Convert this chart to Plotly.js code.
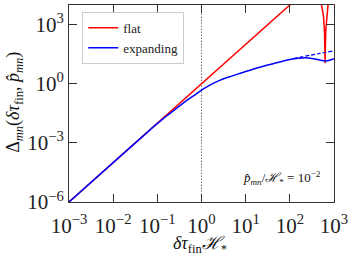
<!DOCTYPE html>
<html>
<head>
<meta charset="utf-8">
<script src="https://cdn.plot.ly/plotly-3.0.1.min.js"></script>
<style>html,body{margin:0;padding:0;background:#fff;}#plot{width:353px;height:256px;}</style>
</head>
<body>
<div id="plot"></div>
<script>
// flat (red)
const flatX = [0.001, 100, 200, 300, 400, 500, 540, 580, 610, 628, 650, 690, 733, 800, 1000];
const flatY = [1e-6, 1e4, 2.8e4, 4e4, 3.3e4, 1.4e4, 7e3, 2.5e3, 4e2, 11, 5e2, 3e3, 1e4, 2.2e4, 3.7e4];
// expanding (blue, solid)
const expX = [0.001, 0.01, 0.0525, 0.0813, 0.126, 0.194, 0.299, 0.462, 0.713, 1.0, 1.585, 2.51, 3.98, 6.31, 10,
              15.8, 25.1, 39.8, 63.1, 100, 158, 224, 316, 447, 631, 794, 1000];
const expY = [1e-6, 1e-4, 2.69e-3, 6.46e-3, 0.0148, 0.0316, 0.0676, 0.145, 0.275, 0.479, 0.891, 1.445, 2.14, 3.02, 4.17,
              5.75, 7.76, 10.2, 13.2, 17.0, 20.0, 20.9, 19.5, 16.6, 14.5, 15.5, 18.6];
// expanding asymptote (blue, dashed)
const asymX = [120, 480, 1000];
const asymY = [19.3, 34.7, 46.8];
// vertical marker
const markX = [1, 1];
const markY = [1e-7, 1e5];
// ticks
const xTickVals = [1e-3, 1e-2, 1e-1, 1, 10, 100, 1000];
const xTickText = ["10<sup>−3</sup>", "10<sup>−2</sup>", "10<sup>−1</sup>", "10<sup>0</sup>", "10<sup>1</sup>", "10<sup>2</sup>", "10<sup>3</sup>"];
const yTickVals = [1e-6, 1e-3, 1, 1e3];
const yTickText = ["10<sup>−6</sup>", "10<sup>−3</sup>", "10<sup>0</sup>", "10<sup>3</sup>"];

const serif = "Liberation Serif";

const traces = [
  {x: markX, y: markY, mode: "lines", line: {color: "#333", width: 1, dash: "1px,2px"}, showlegend: false, hoverinfo: "skip"},
  {x: flatX, y: flatY, mode: "lines", name: "flat", line: {color: "#ff0000", width: 1.5}},
  {x: expX, y: expY, mode: "lines", name: "expanding", line: {color: "#0000ff", width: 1.5, shape: "spline", smoothing: 0.6}},
  {x: asymX, y: asymY, mode: "lines", showlegend: false, line: {color: "#0000ff", width: 1.2, dash: "4px,2px", shape: "spline", smoothing: 0.6}}
];

const axisCommon = {
  type: "log", showgrid: false, zeroline: false, showline: true, linecolor: "#333", linewidth: 1,
  mirror: "allticks", ticks: "inside", ticklen: 8, tickwidth: 1, tickcolor: "#333",
  tickfont: {family: serif, size: 21, color: "#222"}
};

const layout = {
  width: 353, height: 256,
  margin: {l: 69, r: 19, t: 5, b: 54},
  paper_bgcolor: "#fff", plot_bgcolor: "#fff",
  font: {family: serif},
  xaxis: Object.assign({}, axisCommon, {range: [-3, 3], tickvals: xTickVals, ticktext: xTickText, ticklabelstandoff: 5}),
  yaxis: Object.assign({}, axisCommon, {range: [-6, 4], tickvals: yTickVals, ticktext: yTickText}),
  legend: {x: 0.05, y: 0.965, xanchor: "left", yanchor: "top", bgcolor: "#fff", bordercolor: "#ccc", borderwidth: 1,
           font: {family: serif, size: 13, color: "#222"}},
  showlegend: true,
  annotations: [
    {xref: "paper", yref: "paper", x: 0.494, y: -0.215, xanchor: "center", yanchor: "middle", showarrow: false,
     text: "<i>δτ</i><sub>fin</sub><i>ℋ</i><sub>*</sub>", font: {family: serif, size: 18, color: "#111"}},
    {xref: "paper", yref: "paper", x: -0.204, y: 0.508, xanchor: "center", yanchor: "middle", showarrow: false, textangle: -90,
     text: "Δ<sub><i>mn</i></sub>(<i>δτ</i><sub>fin</sub>, <i>p̂</i><sub><i>mn</i></sub>)", font: {family: serif, size: 18, color: "#111"}},
    {xref: "paper", yref: "paper", x: 0.96, y: 0.122, xanchor: "right", yanchor: "middle", showarrow: false,
     text: "<i>p̂</i><sub><i>mn</i></sub>/<i>ℋ</i><sub>*</sub> = 10<sup>−2</sup>", font: {family: serif, size: 13, color: "#111"}}
  ]
};

Plotly.newPlot("plot", traces, layout, {displayModeBar: false, staticPlot: true});
</script>
</body>
</html>
